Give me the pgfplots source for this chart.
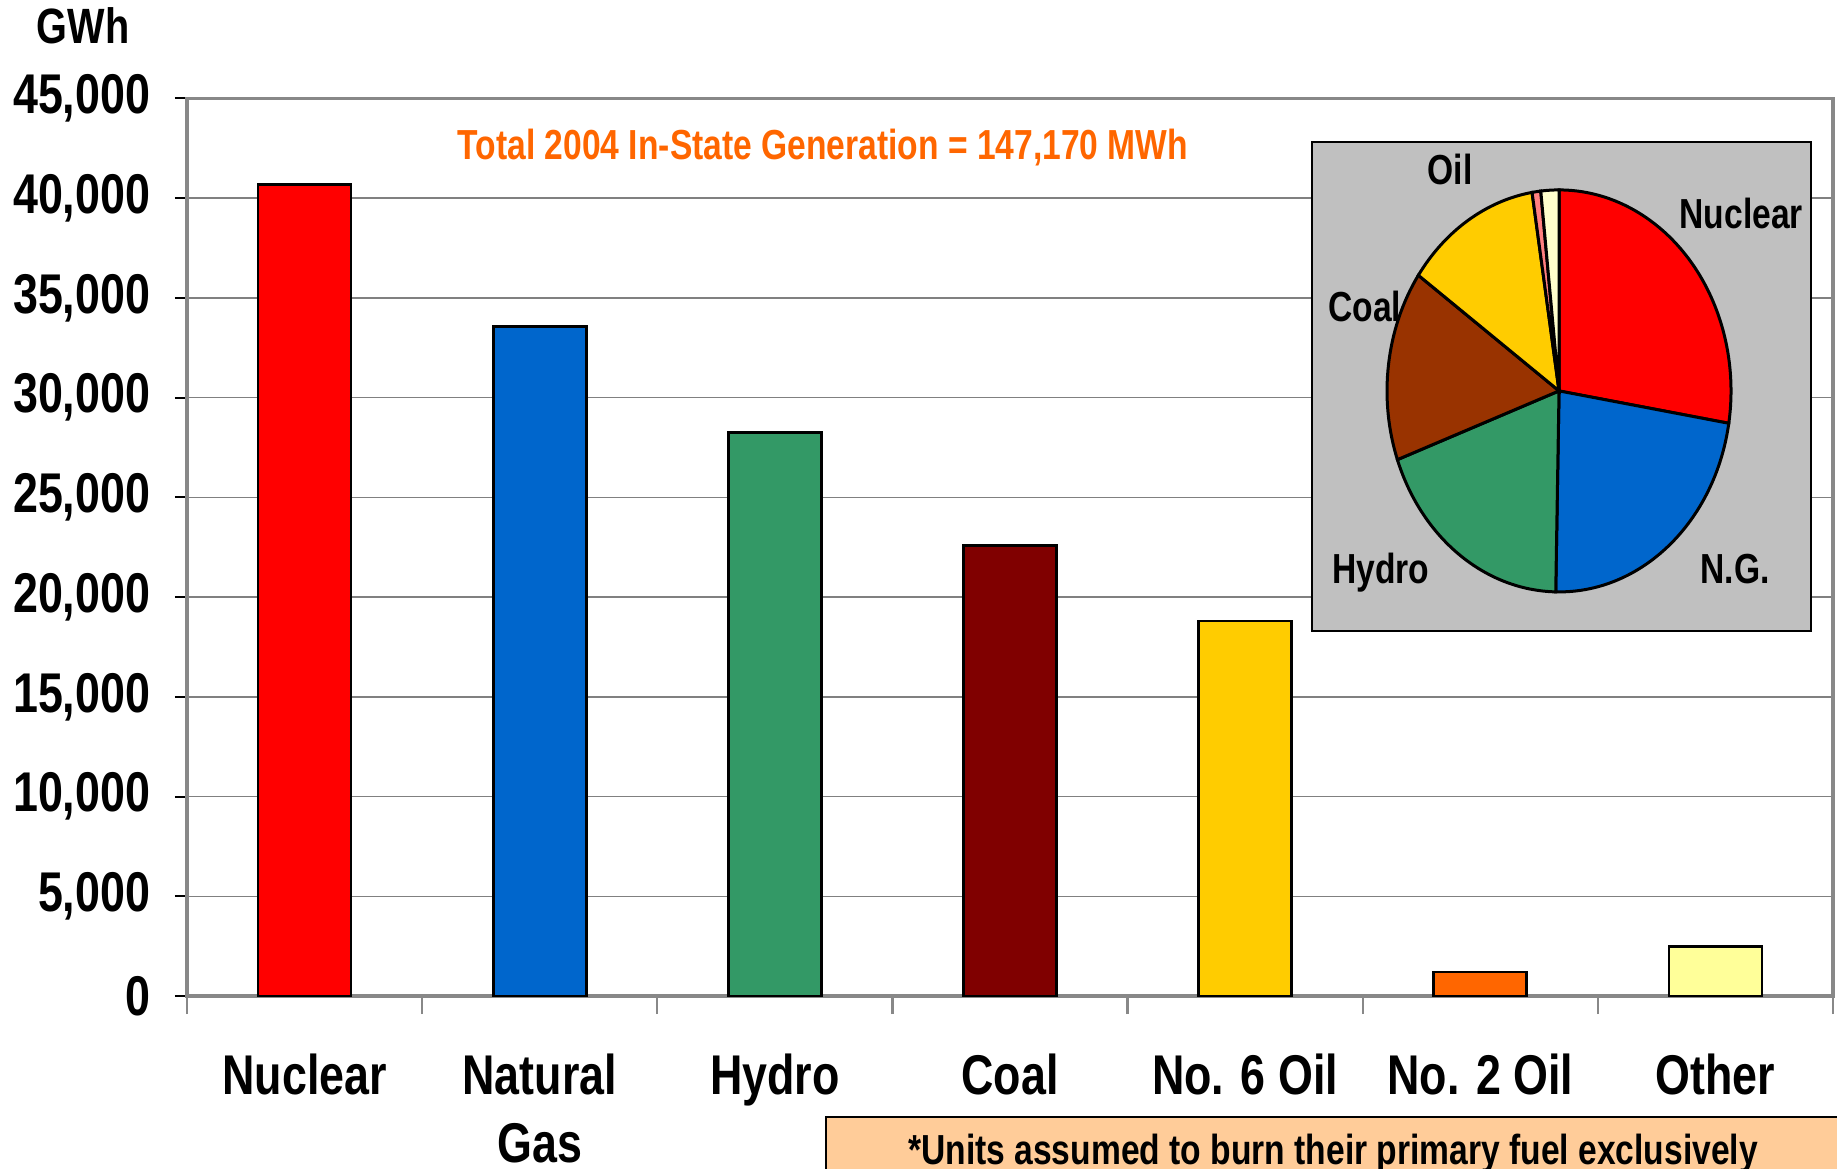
\documentclass[border=0pt]{standalone}
\usepackage{fontspec}
\setmainfont{Liberation Sans}[FakeStretch=0.8]
\usepackage{pgfplots}
\usepackage{pgfplotstable}
\pgfplotsset{compat=1.18}

% bar colours
\definecolor{cnuc}{HTML}{FF0000}
\definecolor{cng}{HTML}{0066CC}
\definecolor{chyd}{HTML}{339966}
\definecolor{ccoal}{HTML}{800000}
\definecolor{csix}{HTML}{FFCC00}
\definecolor{ctwo}{HTML}{FF6600}
\definecolor{coth}{HTML}{FFFF99}
% pie colours
\definecolor{pc0}{HTML}{FF0000}
\definecolor{pc1}{HTML}{0066CC}
\definecolor{pc2}{HTML}{339966}
\definecolor{pc3}{HTML}{993300}
\definecolor{pc4}{HTML}{FFCC00}
\definecolor{pc5}{HTML}{FF8080}
\definecolor{pc6}{HTML}{FFFFCC}
\definecolor{axgray}{HTML}{888888}
\definecolor{gridgray}{HTML}{808080}
\definecolor{piebg}{HTML}{C0C0C0}
\definecolor{notebg}{HTML}{FFCC99}
\definecolor{titleor}{HTML}{FF6600}

% 2004 generation by fuel, GWh
\pgfplotstableread{
x value
0 40700
1 33550
2 28250
3 22600
4 18800
5 1200
6 2500
}\gen

% pie angles (clockwise from 12 o'clock)
\xdef\tot{0}
\foreach \r in {0,...,6}{\pgfplotstablegetelem{\r}{value}\of\gen
  \xdef\tot{\fpeval{\tot+\pgfplotsretval}}}
\xdef\pacur{90}
\foreach \r in {0,...,6}{\pgfplotstablegetelem{\r}{value}\of\gen
  \expandafter\xdef\csname pa\r\endcsname{\pacur}%
  \xdef\pacur{\fpeval{\pacur-360*\pgfplotsretval/\tot}}%
  \expandafter\xdef\csname pb\r\endcsname{\pacur}}

\pgfplotsset{gbar/.style={ybar, bar width=23.25pt, bar shift=0pt,
  draw=black, line width=0.7pt, restrict x to domain=#1:#1}}

\newcommand\bigfont{\fontsize{14}{17}\selectfont\bfseries}
\newcommand\midfont{\fontsize{10.5}{12.5}\selectfont\bfseries}

\begin{document}
\begin{tikzpicture}
\useasboundingbox (0,0) rectangle (459.25pt,-292pt);
\clip (0,0) rectangle (459.25pt,-292pt);

\begin{axis}[
  at={(46.75pt,-24.6pt)}, anchor=north west, scale only axis,
  width=411.5pt, height=224.4pt,
  xmin=-0.5, xmax=6.5, ymin=0, ymax=45000,
  xtick={-0.5,0.5,...,6.5}, x tick label as interval,
  xticklabels={Nuclear,{Natural\\Gas},Hydro,Coal,No. 6 Oil,No. 2 Oil,Other},
  ytick={0,5000,...,45000}, scaled y ticks=false,
  ymajorgrids, grid style={draw=gridgray, line width=0.35pt},
  axis line style={draw=axgray, line width=0.85pt},
  tick pos=left, tick align=outside, major tick length=3pt,
  ytick style={draw=black, line width=0.5pt},
  xtick style={draw=axgray, line width=0.6pt, /pgfplots/major tick length=4.5pt},
  tick label style={font=\bigfont},
  yticklabel style={anchor=east, inner sep=0pt, xshift=-6pt,
    /pgf/number format/1000 sep={,}, /pgf/number format/assume math mode=true},
  xticklabel style={align=center, anchor=north, inner sep=0pt, yshift=-11.2pt},
]
\addplot[gbar=0, fill=cnuc] table[x=x, y=value]{\gen};
\addplot[gbar=1, fill=cng] table[x=x, y=value]{\gen};
\addplot[gbar=2, fill=chyd] table[x=x, y=value]{\gen};
\addplot[gbar=3, fill=ccoal] table[x=x, y=value]{\gen};
\addplot[gbar=4, fill=csix] table[x=x, y=value]{\gen};
\addplot[gbar=5, fill=ctwo] table[x=x, y=value]{\gen};
\addplot[gbar=6, fill=coth] table[x=x, y=value]{\gen};
\end{axis}

% inset pie
\begin{axis}[
  at={(328pt,-35.5pt)}, anchor=north west, scale only axis,
  width=124.75pt, height=122.25pt,
  xmin=0, xmax=1, ymin=0, ymax=1, hide axis, clip=false,
]
\filldraw[fill=piebg, draw=black, line width=0.5pt] (rel axis cs:0,0) rectangle (rel axis cs:1,1);
\pgfplotsinvokeforeach{0,...,6}{
  \filldraw[fill=pc#1, draw=black, line width=0.75pt] (axis cs:0.495,0.491)
    -- ++(\csname pa#1\endcsname:43pt and 50.25pt)
    arc[start angle=\csname pa#1\endcsname, end angle=\csname pb#1\endcsname,
        x radius=43pt, y radius=50.25pt] -- cycle;
}
\node[font=\midfont] at (axis cs:0.277,0.943) {Oil};
\node[font=\midfont] at (axis cs:0.860,0.853) {Nuclear};
\node[font=\midfont] at (axis cs:0.106,0.663) {Coal};
\node[font=\midfont] at (axis cs:0.138,0.119) {Hydro};
\node[font=\midfont] at (axis cs:0.848,0.127) {N.G.};
\end{axis}

\node[anchor=base, inner sep=0pt, font=\fontsize{12.4}{14}\selectfont\bfseries] at (20.75pt,-10.75pt) {GWh};
\node[anchor=base, inner sep=0pt, font=\midfont, text=titleor] at (205.75pt,-39.75pt)
  {Total 2004 In-State Generation = 147,170 MWh};
\filldraw[fill=notebg, draw=black, line width=0.6pt] (206.5pt,-279.25pt) rectangle (470pt,-300pt);
\node[anchor=base, inner sep=0pt, font=\midfont] at (333.25pt,-291.2pt)
  {*Units assumed to burn their primary fuel exclusively};
\end{tikzpicture}
\end{document}
